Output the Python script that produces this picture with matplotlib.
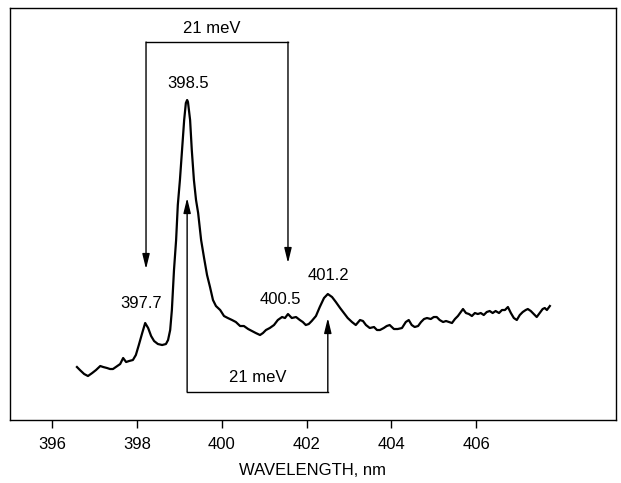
import matplotlib.pyplot as plt

plt.rcParams['font.family'] = ['Liberation Sans', 'DejaVu Sans']

# spectrum (wavelength in nm, intensity in arbitrary units)
wavelength = [
    396.58, 396.65, 396.75, 396.84, 396.94, 397.03, 397.13, 397.20, 397.29, 397.36,
    397.43, 397.53, 397.60, 397.67, 397.74, 397.81, 397.90, 397.97, 398.04, 398.12,
    398.19, 398.26, 398.33, 398.40, 398.49, 398.59, 398.68, 398.73, 398.78, 398.82,
    398.87, 398.92, 398.96, 399.01, 399.06, 399.11, 399.15, 399.18, 399.20, 399.25,
    399.29, 399.34, 399.39, 399.44, 399.51, 399.58, 399.65, 399.72, 399.79, 399.86,
    399.96, 400.05, 400.14, 400.24, 400.33, 400.43, 400.52, 400.62, 400.71, 400.80,
    400.90, 400.97, 401.04, 401.13, 401.23, 401.32, 401.42, 401.49, 401.56, 401.65,
    401.75, 401.84, 401.91, 401.98, 402.05, 402.12, 402.22, 402.31, 402.41, 402.50,
    402.60, 402.69, 402.79, 402.88, 402.97, 403.07, 403.16, 403.26, 403.33, 403.40,
    403.49, 403.59, 403.66, 403.73, 403.82, 403.89, 403.96, 404.06, 404.15, 404.25,
    404.34, 404.41, 404.48, 404.55, 404.63, 404.70, 404.77, 404.84, 404.93, 405.00,
    405.07, 405.14, 405.22, 405.29, 405.36, 405.43, 405.50, 405.57, 405.64, 405.69,
    405.76, 405.83, 405.90, 405.97, 406.04, 406.11, 406.18, 406.25, 406.32, 406.39,
    406.46, 406.54, 406.61, 406.68, 406.75, 406.82, 406.89, 406.96, 407.03, 407.10,
    407.17, 407.22, 407.29, 407.36, 407.43, 407.50, 407.57, 407.62, 407.67, 407.74,
]
intensity = [
    53, 50, 46, 44, 47, 50, 54, 53, 52, 51,
    51, 54, 56, 62, 58, 59, 60, 65, 75, 87,
    97, 92, 84, 79, 76, 75, 76, 80, 90, 110,
    150, 180, 215, 240, 270, 300, 317, 320, 318, 300,
    270, 240, 220, 207, 180, 162, 145, 133, 120, 114,
    110, 104, 102, 100, 98, 94, 94, 91, 89, 87,
    85, 87, 90, 92, 95, 100, 103, 102, 106, 102,
    103, 100, 98, 95, 96, 99, 104, 113, 122, 126,
    123, 118, 112, 107, 102, 98, 95, 100, 99, 95,
    92, 93, 90, 90, 92, 94, 95, 91, 91, 92,
    98, 100, 95, 93, 94, 98, 101, 102, 101, 103,
    103, 100, 98, 99, 98, 97, 101, 104, 108, 111,
    107, 106, 104, 107, 106, 107, 105, 108, 109, 107,
    109, 107, 110, 110, 113, 107, 102, 100, 105, 108,
    110, 111, 109, 106, 103, 107, 111, 112, 110, 114,
]

peak_labels = ['397.7', '398.5', '400.5', '401.2']
peak_label_x = [398.09, 399.20, 401.39, 402.52]
peak_label_y = [117, 337, 121, 145]

fig = plt.figure(figsize=(6.21, 4.83), dpi=100)
ax = fig.add_axes([0.0161, 0.1304, 0.9758, 0.853])

ax.plot(wavelength, intensity, color='black', lw=1.6)

for lab, x, y in zip(peak_labels, peak_label_x, peak_label_y):
    ax.text(x, y, lab, ha='center', va='center', fontsize=12)

arrow = dict(arrowstyle='-|>,head_length=0.9,head_width=0.22', lw=1.0,
             color='black', shrinkA=0, shrinkB=0)

# upper bracket: 21 meV between 397.7 and 400.5
ax.plot([398.21, 401.56], [378, 378], color='black', lw=1.0)
ax.annotate('', xy=(398.21, 151), xytext=(398.21, 378), arrowprops=arrow)
ax.annotate('', xy=(401.56, 157), xytext=(401.56, 378), arrowprops=arrow)
ax.text(399.77, 392, '21 meV', ha='center', va='center', fontsize=12)

# lower bracket: 21 meV between 398.5 and 401.2
ax.plot([399.18, 402.50], [28, 28], color='black', lw=1.0)
ax.annotate('', xy=(399.18, 222), xytext=(399.18, 28), arrowprops=arrow)
ax.annotate('', xy=(402.50, 102), xytext=(402.50, 28), arrowprops=arrow)
ax.text(400.85, 43, '21 meV', ha='center', va='center', fontsize=12)

ax.set_xlim(395.0, 409.3)
ax.set_ylim(0, 412)
ax.set_xticks([396, 398, 400, 402, 404, 406])
ax.set_yticks([])
ax.tick_params(axis='x', direction='out', length=6, width=1, labelsize=12, pad=6)
ax.set_xlabel('WAVELENGTH, nm', fontsize=12, labelpad=8)
for sp in ax.spines.values():
    sp.set_linewidth(1.0)

fig.savefig('out.png', dpi=100)
